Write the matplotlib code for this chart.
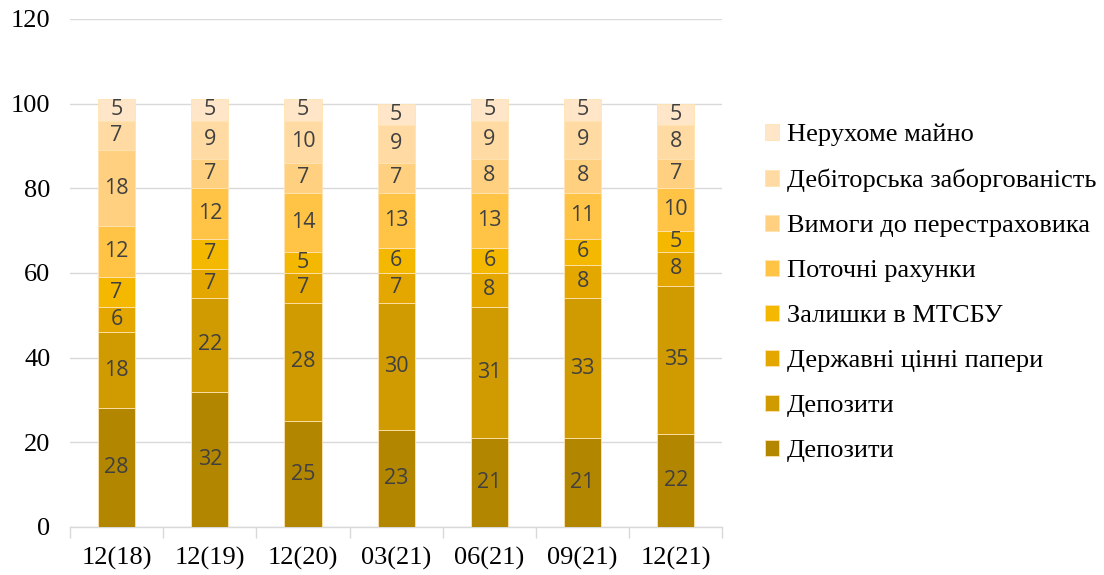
import matplotlib
matplotlib.use("Agg")
import matplotlib.pyplot as plt
import numpy as np

categories = ["12(18)", "12(19)", "12(20)", "03(21)", "06(21)", "09(21)", "12(21)"]
series_names = ["Депозити", "Депозити", "Державні цінні папери", "Залишки в МТСБУ",
                "Поточні рахунки", "Вимоги до перестраховика",
                "Дебіторська заборгованість", "Нерухоме майно"]
deposits_a = [28, 32, 25, 23, 21, 21, 22]
deposits_b = [18, 22, 28, 30, 31, 33, 35]
gov_bonds = [6, 7, 7, 7, 8, 8, 8]
mtsbu = [7, 7, 5, 6, 6, 6, 5]
current = [12, 12, 14, 13, 13, 11, 10]
reinsurer = [18, 7, 7, 7, 8, 8, 7]
receivables = [7, 9, 10, 9, 9, 9, 8]
real_estate = [5, 5, 5, 5, 5, 5, 5]
series = [deposits_a, deposits_b, gov_bonds, mtsbu, current, reinsurer, receivables, real_estate]
colors = ["#B38600", "#CF9B00", "#E3A700", "#F5B800", "#FFC445", "#FFD07F", "#FFDBA3", "#FFE6C8"]

fig = plt.figure(figsize=(11.04, 5.75), dpi=100)
ax = fig.add_axes([0.0634, 0.0835, 0.591, 0.8835])

x = np.arange(len(categories))
bottom = np.zeros(len(categories))
handles = []
for vals, name, col in zip(series, series_names, colors):
    v = np.array(vals, dtype=float)
    b = ax.bar(x, v, width=0.4, bottom=bottom, color=col, edgecolor="#FFE3B0",
               linewidth=0.6, label=name, zorder=3)
    handles.append(b)
    for xi, bi, vi in zip(x, bottom, v):
        ax.text(xi, bi + vi / 2, f"{int(vi)}", ha="center", va="center",
                fontsize=15.5, color="#404040", family="Open Sans", zorder=4)
    bottom += v

ax.set_xlim(-0.5, len(categories) - 0.5)
ax.set_ylim(0, 120)
ax.set_yticks(range(0, 121, 20))
ax.set_xticks(x)
ax.set_xticklabels(categories)
ax.set_xticks(np.arange(-0.5, len(categories), 1), minor=True)
ax.tick_params(axis="x", which="major", length=0, pad=14)
ax.tick_params(axis="x", which="minor", length=8, color="#D9D9D9", width=1)
ax.tick_params(axis="y", length=0, pad=14)
for lab in ax.get_xticklabels() + ax.get_yticklabels():
    lab.set_family("Liberation Serif")
    lab.set_fontsize(19)
    lab.set_color("#000000")
ax.grid(axis="y", color="#D9D9D9", linewidth=1, zorder=0)
for s in ["top", "right", "left"]:
    ax.spines[s].set_visible(False)
ax.spines["bottom"].set_color("#D9D9D9")
ax.spines["bottom"].set_linewidth(1)

leg = fig.legend(handles[::-1], series_names[::-1], loc="upper left",
                 bbox_to_anchor=(0.671, 0.826), frameon=False,
                 prop={"family": "Liberation Serif", "size": 19},
                 handlelength=0.55, handleheight=0.55, handletextpad=0.3,
                 labelspacing=0.86)

fig.savefig("out.png", dpi=100)
